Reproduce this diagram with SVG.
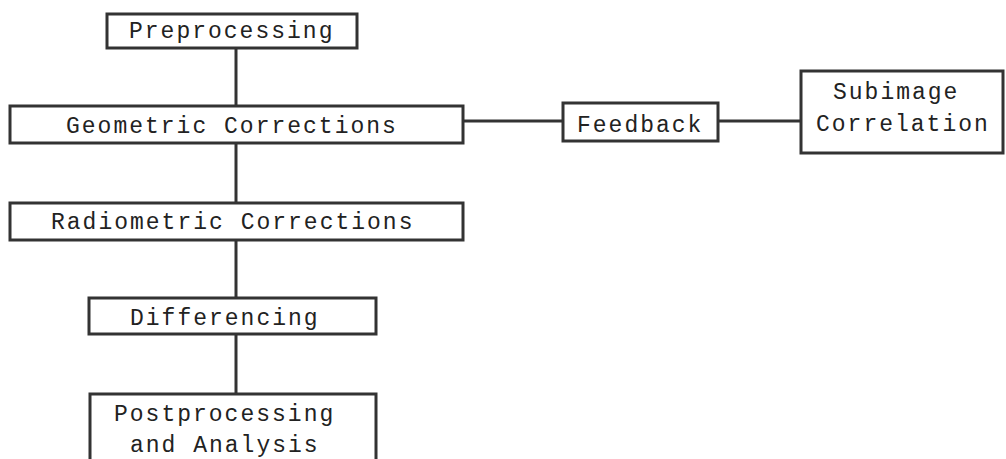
<svg xmlns="http://www.w3.org/2000/svg" width="1006" height="459" viewBox="0 0 1006 459">
<style>
.box{fill:#fff;stroke:#333;stroke-width:3}
.ln{stroke:#333;stroke-width:3;fill:none}
text{font-family:"Liberation Mono","Courier New",monospace;font-size:23px;letter-spacing:2px;fill:#222}
</style>
<rect width="1006" height="459" fill="#fff"/>
<g id="connectors">
<line class="ln" x1="236" y1="48" x2="236" y2="106"/>
<line class="ln" x1="236" y1="143" x2="236" y2="203"/>
<line class="ln" x1="236" y1="240" x2="236" y2="298"/>
<line class="ln" x1="236" y1="334" x2="236" y2="394"/>
<line class="ln" x1="463" y1="121" x2="563" y2="121"/>
<line class="ln" x1="718" y1="121" x2="801" y2="121"/>
</g>
<g id="preprocessing"><rect class="box" x="107" y="14" width="250" height="34"/><text x="129" y="38">Preprocessing</text></g>
<g id="geometric"><rect class="box" x="10" y="106" width="453" height="37"/><text x="66" y="133">Geometric Corrections</text></g>
<g id="feedback"><rect class="box" x="563" y="103" width="155" height="38"/><text x="577" y="132">Feedback</text></g>
<g id="subimage"><rect class="box" x="801" y="71" width="202" height="82"/><text x="833" y="99">Subimage</text><text x="816" y="131">Correlation</text></g>
<g id="radiometric"><rect class="box" x="10" y="203" width="453" height="37"/><text x="51" y="229">Radiometric Corrections</text></g>
<g id="differencing"><rect class="box" x="89" y="298" width="287" height="36"/><text x="130" y="325">Differencing</text></g>
<g id="postprocessing"><rect class="box" x="90" y="394" width="286" height="80"/><text x="114" y="421">Postprocessing</text><text x="130" y="452">and Analysis</text></g>
</svg>
